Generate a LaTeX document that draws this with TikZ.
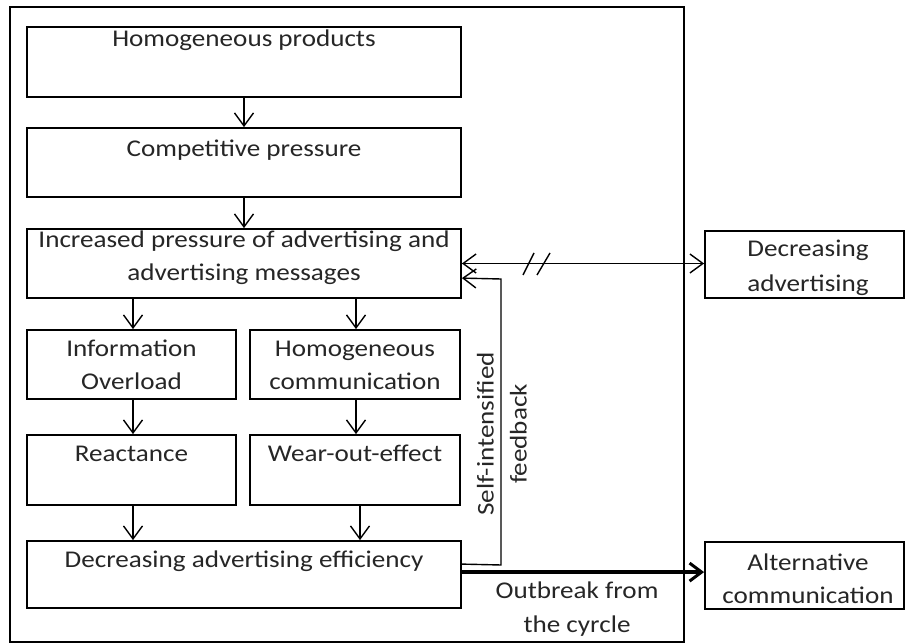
\documentclass[tikz,border=0pt]{standalone}
\usepackage{fontspec}
\setmainfont{Carlito}[FakeStretch=1.13]
\usetikzlibrary{arrows.meta,calc}
\begin{document}
\begin{tikzpicture}[x=1pt,y=1pt,
  box/.style={draw=black, line width=1.8pt, inner sep=0pt, fill=white},
  txt/.style={anchor=base, inner sep=0pt, text=black!85, font=\fontsize{24}{33}\selectfont},
  arr/.style={line width=1.4pt, -{Straight Barb[length=13pt,width=19pt,line width=1.4pt]}},
  darr/.style={line width=1.4pt, {Straight Barb[length=13pt,width=19pt,line width=1.4pt]}-{Straight Barb[length=13pt,width=19pt,line width=1.4pt]}},
  tarr/.style={line width=3.6pt, -{Straight Barb[length=12pt,width=18pt,line width=3pt]}}]
\useasboundingbox (0,0) rectangle (906,-644);
% outer frame
\draw[line width=1.8pt] (10,-7) rectangle (684,-642);
% boxes
\node[box, minimum width=434, minimum height=70] (b1) at (244,-62) {};
\node[box, minimum width=434, minimum height=69] (b2) at (244,-162.5) {};
\node[box, minimum width=434, minimum height=69] (b3) at (244,-263.5) {};
\node[box, minimum width=209, minimum height=69] (b4l) at (131.5,-364.5) {};
\node[box, minimum width=210, minimum height=69] (b4r) at (355,-364.5) {};
\node[box, minimum width=209, minimum height=70] (b5l) at (131.5,-470) {};
\node[box, minimum width=210, minimum height=70] (b5r) at (355,-470) {};
\node[box, minimum width=434, minimum height=67] (b7) at (244,-574.5) {};
\node[box, minimum width=199, minimum height=67] (dec) at (804.5,-264.5) {};
\node[box, minimum width=199, minimum height=67] (alt) at (804.5,-575.5) {};
% texts
\node[txt] (t1) at (244,-47) {Homogeneous products};
\node[txt] (t2) at (244,-157) {Competitive pressure};
\node[txt] (t3a) at (244,-248) {Increased pressure of advertising and};
\node[txt] (t3b) at (244,-281) {advertising messages};
\node[txt] (t4a) at (131.5,-357) {Information};
\node[txt] (t4b) at (131.5,-390) {Overload};
\node[txt] (t4c) at (355,-357) {Homogeneous};
\node[txt] (t4d) at (355,-390) {communication};
\node[txt] (t5a) at (131.5,-462) {Reactance};
\node[txt] (t5b) at (355,-462) {Wear-out-effect};
\node[txt] (t7) at (244,-567) {Decreasing advertising efficiency};
\node[txt] (td1) at (808,-257) {Decreasing};
\node[txt] (td2) at (808,-292) {advertising};
\node[txt] (ta1) at (808,-570) {Alternative};
\node[txt] (ta2) at (808,-603) {communication};
\node[txt] (to1) at (577,-598) {Outbreak from};
\node[txt] (to2) at (577,-632) {the cyrcle};
\node[rotate=90, align=center, inner sep=0pt, text=black!85, font=\fontsize{24}{33}\selectfont] (fbl) at (502,-434) {Self-intensified\\feedback};
% vertical arrows
\draw[arr] (b1.south) -- (b2.north);
\draw[arr] (b2.south) -- (b3.north);
\draw[arr] (b3.south -| 133,0) -- (b4l.north -| 133,0);
\draw[arr] (b3.south -| 356,0) -- (b4r.north -| 356,0);
\draw[arr] (b4l.south -| 133,0) -- (b5l.north -| 133,0);
\draw[arr] (b4r.south -| 356,0) -- (b5r.north -| 356,0);
\draw[arr] (b5l.south -| 133,0) -- (b7.north -| 133,0);
\draw[arr] (b5r.south -| 360,0) -- (b7.north -| 360,0);
% double arrow with break marks
\draw[darr] (b3.east) -- (b3.east -| dec.west);
\draw[line width=1.4pt] (523,-275) -- (534,-253);
\draw[line width=1.4pt] (537,-275) -- (550,-253);
% feedback loop
\coordinate (fbs) at ($(b7.north east)+(0,-24)$);
\coordinate (fbe) at ($(b3.north east)+(0,-50)$);
\draw[arr] (fbs) -- (501,-565) -- (501,-279) -- (fbe);
% outbreak arrow
\coordinate (obs) at ($(b7.north east)+(0,-32)$);
\draw[tarr] (obs) -- (obs -| alt.west);
\end{tikzpicture}
\end{document}
